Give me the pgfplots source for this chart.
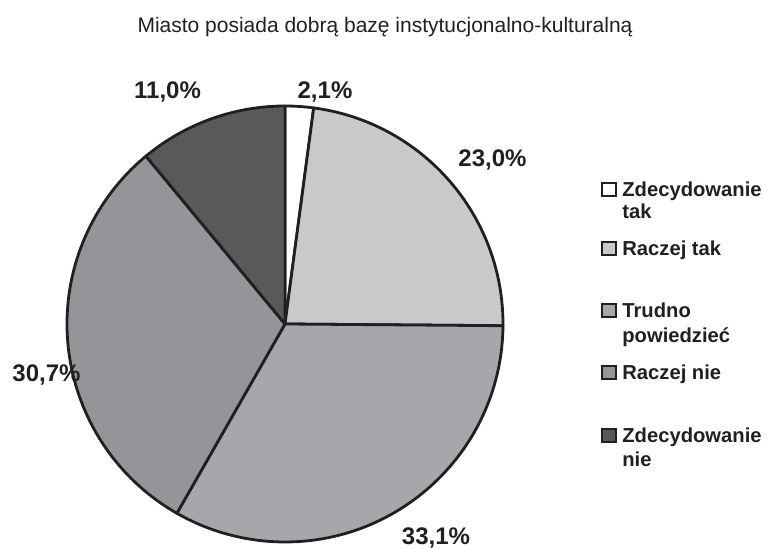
\documentclass[border=0pt]{standalone}
\usepackage{pgfplots}
\usepackage{pgfplotstable}
\pgfplotsset{compat=1.18}
\usepackage{fontspec}
\setmainfont{Liberation Sans}
\definecolor{edge}{HTML}{231F20}
\definecolor{cA}{HTML}{FFFFFF}
\definecolor{cB}{HTML}{C8C9CB}
\definecolor{cC}{HTML}{A6A7AA}
\definecolor{cD}{HTML}{939598}
\definecolor{cE}{HTML}{58595B}
\pgfplotstableread{
value
2.1
23.0
33.1
30.7
11.0
}\piedata
\begin{document}
\begin{tikzpicture}
\pgfplotstablegetelem{0}{value}\of\piedata \pgfmathsetmacro\vA{\pgfplotsretval}
\pgfplotstablegetelem{1}{value}\of\piedata \pgfmathsetmacro\vB{\pgfplotsretval}
\pgfplotstablegetelem{2}{value}\of\piedata \pgfmathsetmacro\vC{\pgfplotsretval}
\pgfplotstablegetelem{3}{value}\of\piedata \pgfmathsetmacro\vD{\pgfplotsretval}
\pgfplotstablegetelem{4}{value}\of\piedata \pgfmathsetmacro\vE{\pgfplotsretval}
\pgfmathsetmacro\tot{\vA+\vB+\vC+\vD+\vE}
\pgfmathsetmacro\aA{90}
\pgfmathsetmacro\aB{\aA-360*\vA/\tot}
\pgfmathsetmacro\aC{\aB-360*\vB/\tot}
\pgfmathsetmacro\aD{\aC-360*\vC/\tot}
\pgfmathsetmacro\aE{\aD-360*\vD/\tot}
\pgfmathsetmacro\aF{\aE-360*\vE/\tot}
\def\R{109pt}
\begin{axis}[
  width=384pt, height=274.5pt, scale only axis,
  xmin=0, xmax=768, ymin=0, ymax=549, y dir=reverse,
  hide axis, clip=false,
]
\addplot[draw=none] coordinates {(0,0) (768,549)};
\fill[cA, draw=edge, line width=1.4pt, line join=round] (axis cs:285,324) -- ++(\aA:\R) arc[start angle=\aA, end angle=\aB, radius=\R] -- cycle;
\fill[cB, draw=edge, line width=1.4pt, line join=round] (axis cs:285,324) -- ++(\aB:\R) arc[start angle=\aB, end angle=\aC, radius=\R] -- cycle;
\fill[cC, draw=edge, line width=1.4pt, line join=round] (axis cs:285,324) -- ++(\aC:\R) arc[start angle=\aC, end angle=\aD, radius=\R] -- cycle;
\fill[cD, draw=edge, line width=1.4pt, line join=round] (axis cs:285,324) -- ++(\aD:\R) arc[start angle=\aD, end angle=\aE, radius=\R] -- cycle;
\fill[cE, draw=edge, line width=1.4pt, line join=round] (axis cs:285,324) -- ++(\aE:\R) arc[start angle=\aE, end angle=\aF, radius=\R] -- cycle;
% title
\node[anchor=base, font=\fontsize{10.5}{12}\selectfont, text=edge] at (axis cs:385,33) {Miasto posiada dobrą bazę instytucjonalno-kulturalną};
% data labels
\tikzset{lab/.style={anchor=base, inner sep=0pt, font=\bfseries\fontsize{12}{14}\selectfont, text=edge}}
\node[lab] at (axis cs:325,99) {2,1\%};
\node[lab] at (axis cs:492.5,167) {23,0\%};
\node[lab] at (axis cs:436,545) {33,1\%};
\node[lab] at (axis cs:46.5,382) {30,7\%};
\node[lab] at (axis cs:167.5,99) {11,0\%};
% legend
\tikzset{lt/.style={anchor=base west, inner sep=0pt, font=\bfseries\fontsize{10.1}{12}\selectfont, text=edge},
         sq/.style={draw=edge, line width=1pt, minimum size=6.8pt, inner sep=0pt}}
\node[sq, fill=cA] at (axis cs:609,189.5) {};
\node[lt] at (axis cs:622,197) {Zdecydowanie};
\node[lt] at (axis cs:622,219) {tak};
\node[sq, fill=cB] at (axis cs:609,248.5) {};
\node[lt] at (axis cs:622,256) {Raczej tak};
\node[sq, fill=cC] at (axis cs:609,310.5) {};
\node[lt] at (axis cs:622,318) {Trudno};
\node[lt] at (axis cs:622,343) {powiedzieć};
\node[sq, fill=cD] at (axis cs:609,372.5) {};
\node[lt] at (axis cs:622,380) {Raczej nie};
\node[sq, fill=cE] at (axis cs:609,435.5) {};
\node[lt] at (axis cs:622,443) {Zdecydowanie};
\node[lt] at (axis cs:622,467) {nie};
\end{axis}
\pgfresetboundingbox
\path (0,0) rectangle (384pt,274.5pt);
\end{tikzpicture}
\end{document}
